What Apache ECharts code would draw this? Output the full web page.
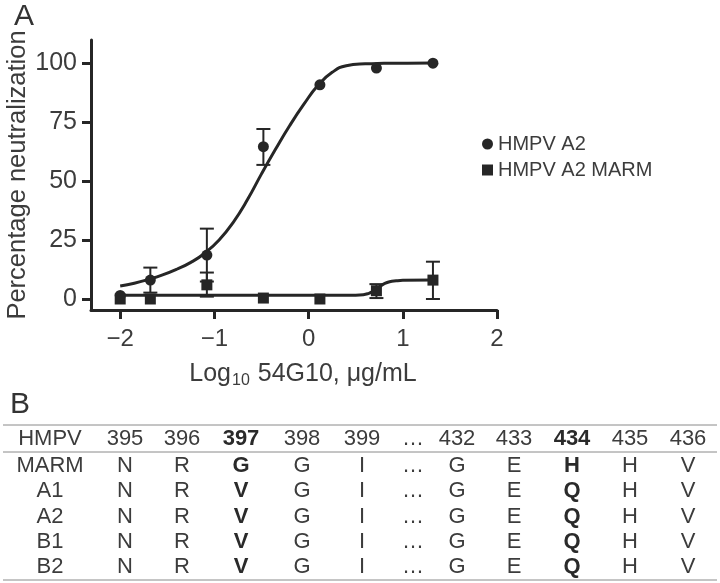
<!DOCTYPE html>
<html>
<head>
<meta charset="utf-8">
<script src="https://cdn.jsdelivr.net/npm/echarts@6/dist/echarts.min.js"></script>
<style>
html,body{margin:0;padding:0;background:#fff;}
#chart{width:720px;height:583px;}
</style>
</head>
<body>
<div id="chart"></div>
<script>
// ---- Panel A data ----
const xTicks = [-2, -1, 0, 1, 2];
const yTicks = [0, 25, 50, 75, 100];
const doseLog = [-2, -1.68, -1.08, -0.48, 0.12, 0.72, 1.32];
const a2Mean = [1.5, 8, 18.6, 64.5, 90.7, 97.8, 99.9];
const a2Low  = [null, 2.7, 7.4, 56.8, null, null, null];
const a2High = [null, 13.3, 29.8, 72, null, null, null];
const marmMean = [0, 0, 6, 0.4, 0, 3.5, 8];
const marmLow  = [null, null, 1, null, null, 0.4, 0];
const marmHigh = [null, null, 11.2, null, null, 6.3, 15.8];
// fitted curves
const a2FitX = [-2.0, -1.85, -1.7, -1.55, -1.4, -1.25, -1.1, -0.95, -0.8, -0.65, -0.5, -0.35, -0.2, -0.05, 0.1, 0.25, 0.4, 0.6, 0.8, 1.05, 1.32];
const a2FitY = [5.5, 6.7, 8.3, 10.2, 12.6, 15.5, 19.5, 25, 32.5, 42, 53, 63.5, 73.5, 82.5, 90.5, 96, 98.8, 99.6, 99.8, 99.9, 100];
const marmFitX = [-2, -1, 0, 0.5, 0.58, 0.64, 0.68, 0.72, 0.76, 0.8, 0.86, 0.93, 1.0, 1.32];
const marmFitY = [1.6, 1.6, 1.6, 1.6, 1.8, 2.4, 3.1, 4.2, 5.4, 6.4, 7.3, 7.7, 7.9, 8];
const seriesNames = ['HMPV A2', 'HMPV A2 MARM'];

// ---- Panel B table ----
const tableHeader = ['HMPV','395','396','397','398','399','…','432','433','434','435','436'];
const tableRowLabels = ['MARM','A1','A2','B1','B2'];
const tableResidues = [
  ['N','R','G','G','I','…','G','E','H','H','V'],
  ['N','R','V','G','I','…','G','E','Q','H','V'],
  ['N','R','V','G','I','…','G','E','Q','H','V'],
  ['N','R','V','G','I','…','G','E','Q','H','V'],
  ['N','R','V','G','I','…','G','E','Q','H','V']
];
const boldColumns = [3, 9];

const INK = '#262626';
const TXT = '#3c3c3c';
const FONT = '"Liberation Sans", Arial, sans-serif';

function pairs(xs, ys){ return xs.map((x,i)=>[x, ys[i]]); }
function bars(xs, lo, hi){
  const out = [];
  xs.forEach((x,i)=>{ if (lo[i] != null) out.push([x, lo[i], hi[i]]); });
  return out;
}
function errRender(params, api){
  const x = api.value(0);
  const p1 = api.coord([x, api.value(1)]);
  const p2 = api.coord([x, api.value(2)]);
  const w = 7;
  const st = {stroke: INK, lineWidth: 2};
  return {type:'group', children:[
    {type:'line', shape:{x1:p1[0], y1:p1[1], x2:p2[0], y2:p2[1]}, style: st},
    {type:'line', shape:{x1:p1[0]-w, y1:p1[1], x2:p1[0]+w, y2:p1[1]}, style: st},
    {type:'line', shape:{x1:p2[0]-w, y1:p2[1], x2:p2[0]+w, y2:p2[1]}, style: st}
  ]};
}

// table graphics
const colX = [50,125,182,241,302,362,413,457,514,572,630,688];
const headerY = 439;
const rowY = [466,491,517,542,567];
const graphics = [];
function addText(t, x, y, bold){
  graphics.push({type:'text', x:x, y:y, silent:true, style:{
    text:t, align:'center', verticalAlign:'middle',
    font:(bold?'bold ':'') + '22px ' + FONT, fill: bold ? '#2a2a2a' : TXT
  }});
}
tableHeader.forEach((t,c)=>addText(t, colX[c], headerY, boldColumns.includes(c)));
tableRowLabels.forEach((lab,r)=>{
  addText(lab, colX[0], rowY[r], false);
  tableResidues[r].forEach((t,c)=>addText(t, colX[c+1], rowY[r], boldColumns.includes(c+1)));
});
[425, 452, 580].forEach(y=>graphics.push({type:'line', silent:true,
  shape:{x1:3, y1:y, x2:717, y2:y}, style:{stroke:'#8a8a8a', lineWidth:1}}));
graphics.push({type:'text', x:14, y:2, style:{text:'A', font:'30px '+FONT, fill:'#333'}});
graphics.push({type:'text', x:10, y:390, style:{text:'B', font:'30px '+FONT, fill:'#333'}});

const chart = echarts.init(document.getElementById('chart'), null, {renderer:'canvas'});
const minus = v => (v < 0 ? '\u2212' + Math.abs(v) : String(v));
chart.setOption({
  animation:false,
  backgroundColor:'#fff',
  textStyle:{fontFamily: FONT},
  grid:{left:91, right:223, top:40, bottom:273, containLabel:false, outerBoundsMode:'none'},
  legend:{
    orient:'vertical', left:477, top:129, itemGap:6, itemWidth:11, itemHeight:11,
    textStyle:{fontSize:20, color:TXT, fontFamily:FONT},
    data:[{name:seriesNames[0], icon:'circle'}, {name:seriesNames[1], icon:'rect'}]
  },
  xAxis:{
    type:'value', min:-2.31, max:2,
    name:'{a|Log}{s|10}{a| 54G10, μg/mL}', nameLocation:'middle', nameGap:49, nameMoveOverlap:false,
    nameTextStyle:{padding:[0,0,0,18], rich:{
      a:{fontSize:25, color:TXT, fontFamily:FONT},
      s:{fontSize:16, color:TXT, fontFamily:FONT, padding:[14,1,0,1]}
    }},
    axisLine:{onZero:false, lineStyle:{color:INK, width:3}},
    axisTick:{customValues:xTicks, length:9, lineStyle:{color:INK, width:3}},
    axisLabel:{customValues:xTicks, formatter:minus, fontSize:24, color:TXT, margin:17},
    splitLine:{show:false}
  },
  yAxis:{
    type:'value', min:-4.66, max:109.7,
    name:'Percentage neutralization', nameLocation:'middle', nameGap:60, nameRotate:90, nameMoveOverlap:false,
    nameTextStyle:{fontSize:25.5, color:TXT},
    axisLine:{onZero:false, lineStyle:{color:INK, width:3}},
    axisTick:{customValues:yTicks, length:9, lineStyle:{color:INK, width:3}},
    axisLabel:{customValues:yTicks, fontSize:25, color:TXT, margin:14},
    splitLine:{show:false}
  },
  series:[
    {type:'line', data:pairs(a2FitX, a2FitY), smooth:0.5, showSymbol:false, symbol:'none',
     lineStyle:{color:INK, width:3}, z:2, silent:true},
    {type:'line', data:pairs(marmFitX, marmFitY), smooth:0.5, showSymbol:false, symbol:'none',
     lineStyle:{color:INK, width:3}, z:2, silent:true},
    {type:'custom', data:bars(doseLog, a2Low, a2High), renderItem:errRender, z:3, silent:true},
    {type:'custom', data:bars(doseLog, marmLow, marmHigh), renderItem:errRender, z:3, silent:true},
    {name:seriesNames[0], type:'scatter', data:pairs(doseLog, a2Mean), symbol:'circle', symbolSize:11,
     itemStyle:{color:INK, opacity:1}, z:4},
    {name:seriesNames[1], type:'scatter', data:pairs(doseLog, marmMean), symbol:'rect', symbolSize:11,
     itemStyle:{color:INK, opacity:1}, z:4}
  ],
  graphic:graphics
});
</script>
</body>
</html>
